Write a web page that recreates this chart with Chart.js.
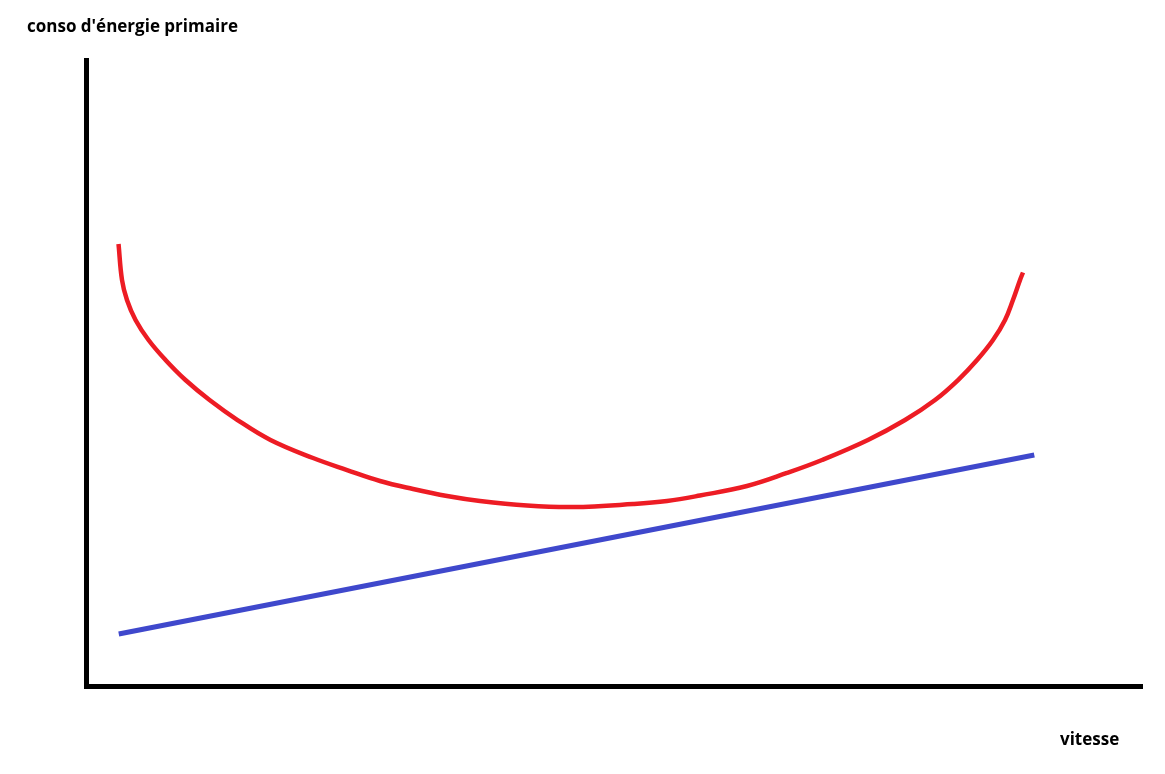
<!DOCTYPE html>
<html>
<head>
<meta charset="utf-8">
<script src="https://cdn.jsdelivr.net/npm/chart.js@4.4.1/dist/chart.umd.min.js"></script>
<style>
  html, body { margin: 0; padding: 0; background: #fff; }
  #wrap { width: 1165px; height: 774px; }
</style>
</head>
<body>
<div id="wrap"><canvas id="chart" width="1165" height="774"></canvas></div>
<script>
// axis labels
const yLabel = "conso d'énergie primaire";
const xLabel = 'vitesse';

// red curve (primary energy use vs speed)
const redX = [3.08, 3.41, 3.88, 4.69, 5.92, 7.53, 9.42, 11.70, 14.35, 17.47, 21.50, 24.72, 27.84, 30.97, 34.19, 37.31, 41.76, 46.12, 51.80, 55.02, 58.14, 62.59, 66.38, 69.70, 74.05, 77.56, 80.40, 82.58, 84.38, 85.89, 87.03, 87.78, 88.45, 88.73];
const redY = [70.61, 64.86, 61.66, 58.47, 55.27, 52.08, 48.88, 45.69, 42.49, 39.30, 36.42, 34.50, 32.75, 31.47, 30.35, 29.55, 28.83, 28.59, 29.07, 29.55, 30.43, 31.95, 34.03, 36.10, 39.30, 42.49, 45.69, 48.88, 52.08, 55.27, 58.47, 61.66, 64.86, 66.05];

// blue straight line
const blueX = [3.1, 89.8];
const blueY = [8.3, 36.9];

const toPoints = (xs, ys) => xs.map((x, i) => ({ x: x, y: ys[i] }));

const labelsPlugin = {
    id: 'cornerLabels',
    afterDraw(chart) {
        const ctx = chart.ctx;
        ctx.save();
        ctx.fillStyle = '#000';
        ctx.font = 'bold 17px "Open Sans", "Noto Sans", sans-serif';
        ctx.textBaseline = 'middle';
        ctx.textAlign = 'left';
        ctx.fillText(yLabel, 27, 27);
        ctx.fillText(xLabel, 1060, 740);
        ctx.restore();
    }
};

new Chart(document.getElementById('chart'), {
    type: 'scatter',
    data: {
        datasets: [
            {
                data: toPoints(redX, redY),
                showLine: true,
                borderColor: '#ED1C24',
                borderWidth: 4.5,
                pointRadius: 0,
                tension: 0.4
            },
            {
                data: toPoints(blueX, blueY),
                showLine: true,
                borderColor: '#3F48CC',
                borderWidth: 5,
                pointRadius: 0
            }
        ]
    },
    options: {
        responsive: false,
        animation: false,
        layout: { padding: { left: 78, top: 60, right: 23, bottom: 80 } },
        plugins: {
            legend: { display: false },
            tooltip: { enabled: false }
        },
        scales: {
            x: {
                min: 0, max: 100,
                grid: { display: false },
                ticks: { display: false },
                border: { color: '#000', width: 5 }
            },
            y: {
                min: 0, max: 100,
                grid: { display: false },
                ticks: { display: false },
                border: { color: '#000', width: 5 }
            }
        }
    },
    plugins: [labelsPlugin]
});
</script>
</body>
</html>
